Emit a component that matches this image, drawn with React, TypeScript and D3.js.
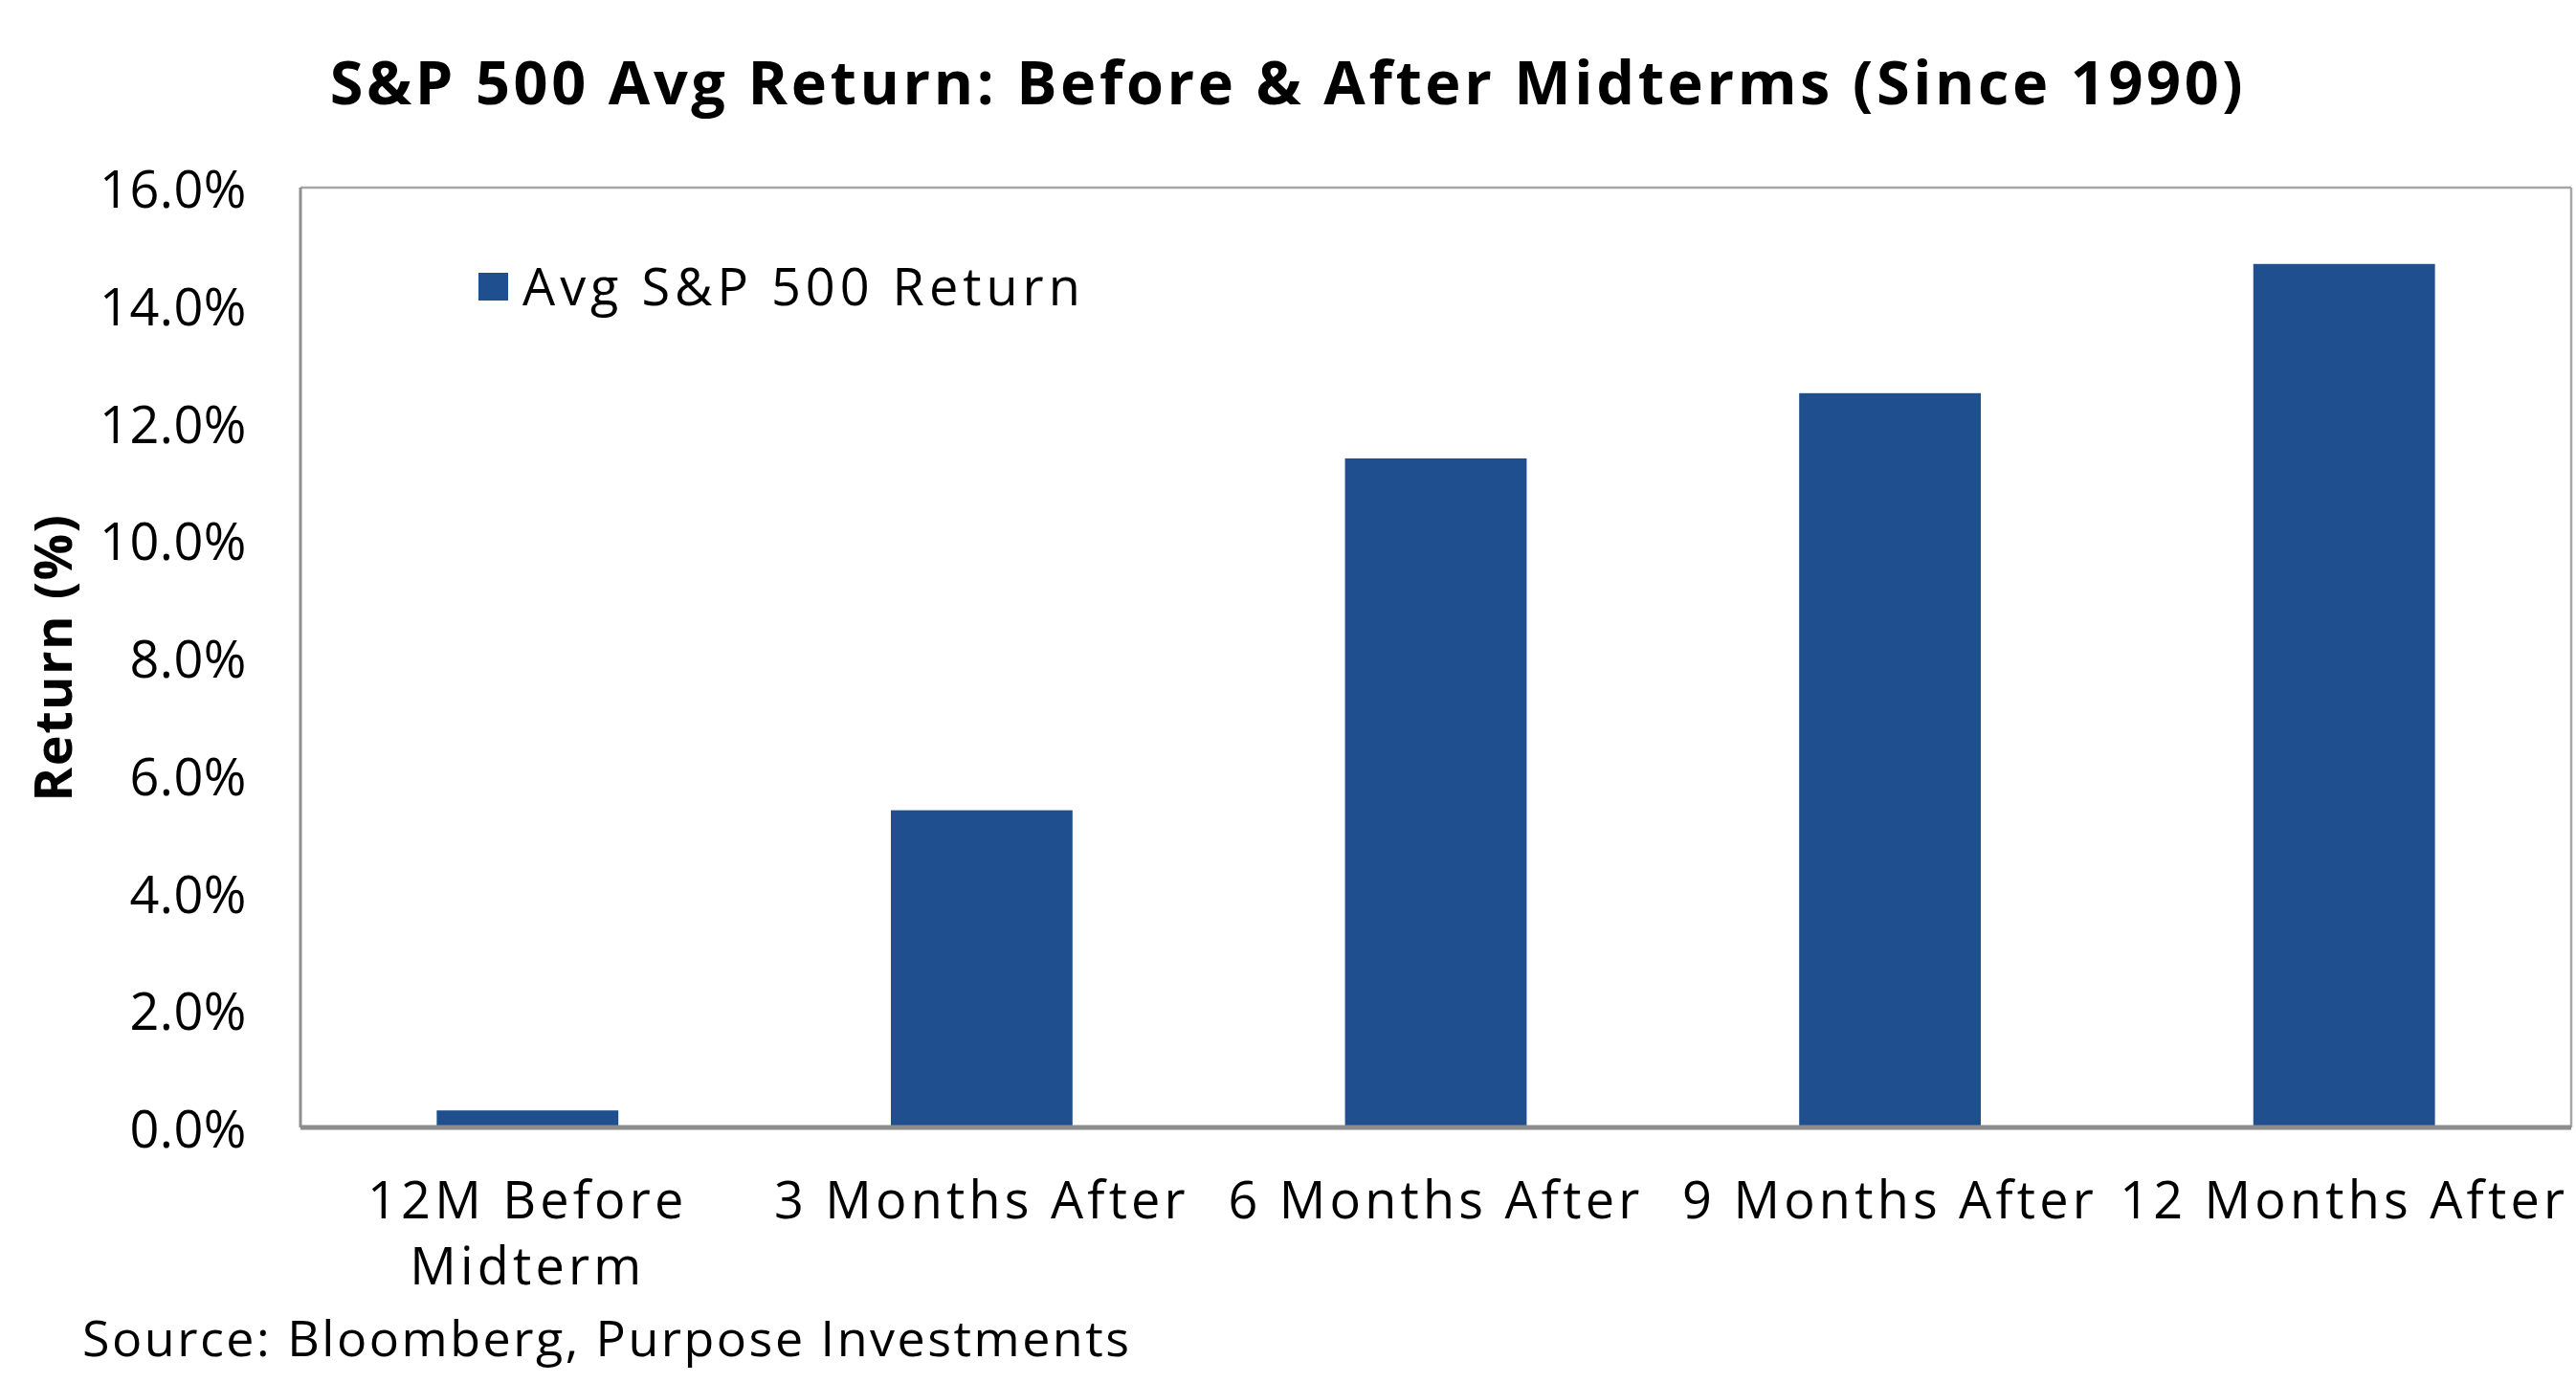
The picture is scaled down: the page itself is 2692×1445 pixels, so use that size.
import React from "react";
import * as d3 from "d3";

const categories: string[][] = [
  ["12M Before", "Midterm"],
  ["3 Months After"],
  ["6 Months After"],
  ["9 Months After"],
  ["12 Months After"],
];
const avgReturn: number[] = [0.29, 5.4, 11.39, 12.5, 14.7];
const yTicks: number[] = [0, 2, 4, 6, 8, 10, 12, 14, 16];
const seriesName = "Avg S&P 500 Return";
const titleText = "S&P 500 Avg Return: Before & After Midterms (Since 1990)";
const yAxisTitle = "Return (%)";
const sourceText = "Source: Bloomberg, Purpose Investments";

const W = 2692;
const H = 1445;
const M = { left: 314, right: 2687, top: 196, bottom: 1178 };
const FONT = "'Open Sans', 'DejaVu Sans', sans-serif";
const BAR = "#1F4F8E";

export default function App() {
  const keys = categories.map((c) => c.join(" "));
  const x = d3.scaleBand<string>().domain(keys).range([M.left, M.right]).paddingInner(0.6).paddingOuter(0.3);
  const y = d3.scaleLinear().domain([0, 16]).range([M.bottom, M.top]);
  const fmt = d3.format(".1f");

  return (
    <svg width={W} height={H} style={{ position: "absolute", left: 0, top: 0, background: "#fff" }} fontFamily={FONT}>
      <rect x={0} y={0} width={W} height={H} fill="#fff" />
      <text x={1346} y={84} textAnchor="middle" dominantBaseline="central" fontSize={63} fontWeight={700} fill="#000" letterSpacing={3.6}>
        {titleText}
      </text>
      {/* plot frame */}
      <line x1={M.left} x2={M.right} y1={M.top} y2={M.top} stroke="#A6A6A6" strokeWidth={2.5} />
      <line x1={M.right} x2={M.right} y1={M.top} y2={M.bottom} stroke="#A6A6A6" strokeWidth={2.5} />
      <line x1={M.left} x2={M.left} y1={M.top} y2={M.bottom} stroke="#8F8F8F" strokeWidth={3} />
      {/* bars */}
      {avgReturn.map((v, i) => (
        <rect key={i} x={x(keys[i])} y={y(v)} width={x.bandwidth()} height={y(0) - y(v)} fill={BAR} />
      ))}
      <line x1={M.left} x2={M.right} y1={M.bottom} y2={M.bottom} stroke="#8C8C8C" strokeWidth={5} />
      {/* y ticks */}
      {yTicks.map((t) => (
        <text key={t} x={258} y={y(t)} textAnchor="end" dominantBaseline="central" fontSize={54} fill="#000" letterSpacing={0.5}>
          {fmt(t)}%
        </text>
      ))}
      <text transform={`translate(54,687) rotate(-90)`} textAnchor="middle" dominantBaseline="central" fontSize={54} fontWeight={700} fill="#000" letterSpacing={1.5}>
        {yAxisTitle}
      </text>
      {/* x labels */}
      {categories.map((c, i) => (
        <text key={i} x={(x(keys[i]) as number) + x.bandwidth() / 2} y={1252} textAnchor="middle" dominantBaseline="central" fontSize={54} fill="#000" letterSpacing={4.2}>
          {c.map((line, j) => (
            <tspan key={j} x={(x(keys[i]) as number) + x.bandwidth() / 2} dy={j === 0 ? 0 : 69}>
              {line}
            </tspan>
          ))}
        </text>
      ))}
      {/* legend */}
      <rect x={500} y={285} width={31} height={29} fill={BAR} />
      <text x={546} y={298} dominantBaseline="central" fontSize={54} fill="#000" letterSpacing={5}>
        {seriesName}
      </text>
      <text x={86} y={1396} dominantBaseline="central" fontSize={52} fill="#000" letterSpacing={2.5}>
        {sourceText}
      </text>
    </svg>
  );
}
